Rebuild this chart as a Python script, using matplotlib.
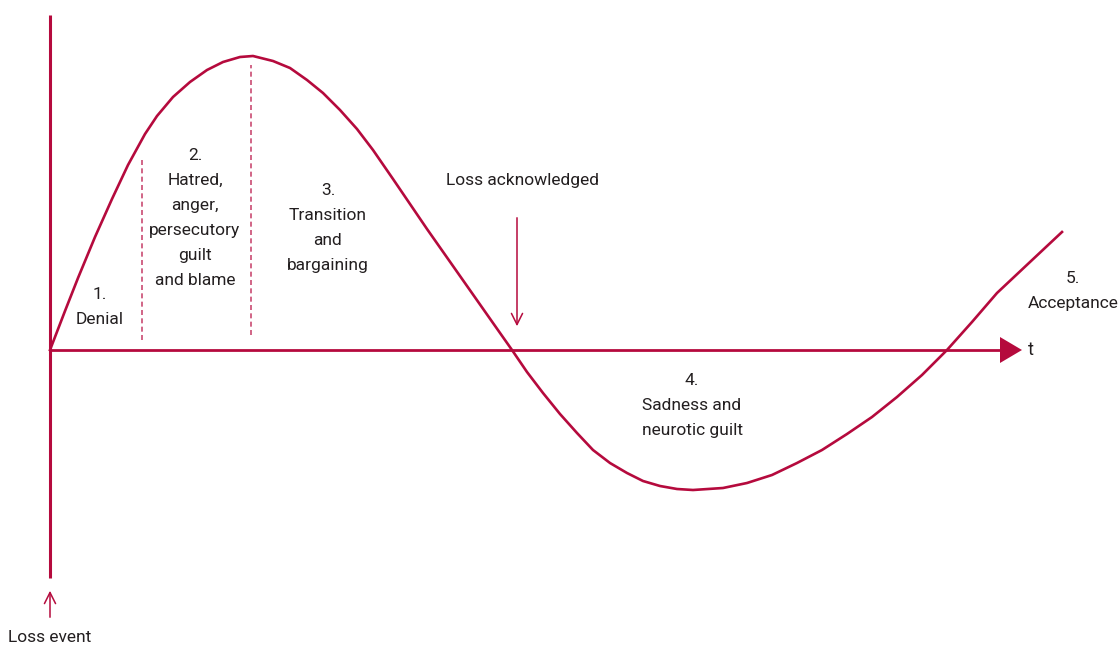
import matplotlib
matplotlib.use("Agg")
import matplotlib.pyplot as plt
from matplotlib.patches import Polygon, FancyArrowPatch

# Emotional response over time (t = time, v = emotional intensity)
curve_t = [0, 15, 28, 45, 62, 78, 95, 107, 123, 140, 157, 173, 190, 203, 223, 240, 257,
           273, 290, 307, 323, 343, 360, 377, 410, 443, 462, 477, 493, 510, 527, 543,
           560, 577, 593, 610, 627, 643, 673, 697, 722, 747, 772, 797, 822, 847,
           872, 897, 922, 947, 980, 1012]
curve_v = [0, 39, 72, 113, 151, 185, 216, 234, 253, 268, 280, 288, 293, 294, 289, 282, 270,
           257, 240, 221, 200, 171, 146, 121, 74, 27, 0, -22, -43, -64, -83, -100,
           -113, -123, -131, -136, -139, -140, -138, -133, -125, -113, -100, -84, -67, -47,
           -25, 0, 28, 57, 88, 118]

stage_dividers_t = [92, 201]
stage_dividers_top = [190, 285]
stage_dividers_bottom = [10, 15]

labels = ["1.\nDenial",
          "2.\nHatred,\nanger,\npersecutory\nguilt\nand blame",
          "3.\nTransition\nand\nbargaining",
          "4.\nSadness and\nneurotic guilt",
          "5.\nAcceptance"]
label_t = [50, 145, 278, 642, 1023]
label_v_top = [63, 202, 167, -23, 79]

acknowledged_t = 467
RED = "#b50a3d"
DASH = "#c94a72"
TXT = "#231f20"
FONT = ["Roboto", "DejaVu Sans"]

fig = plt.figure(figsize=(11.2, 6.48), dpi=100)
ax = fig.add_axes([0, 0, 1, 1])
ax.set_xlim(-50, 1070)
ax.set_ylim(-298, 350)
ax.axis("off")

# axes
ax.plot([0, 0], [-228, 335], color=RED, lw=2.2, solid_capstyle="butt")
ax.plot([0, 952], [0, 0], color=RED, lw=2.0, solid_capstyle="butt")
ax.add_patch(Polygon([[950, 13], [950, -13], [972, 0]], closed=True, color=RED, lw=0))
ax.text(978, 0, "t", ha="left", va="center", fontsize=13, color=TXT, family=FONT)

# curve
ax.plot(curve_t, curve_v, color=RED, lw=1.9, solid_joinstyle="round")

# dividers
for t, top, bot in zip(stage_dividers_t, stage_dividers_top, stage_dividers_bottom):
    ax.plot([t, t], [bot, top], color=DASH, lw=1.2, dashes=(3, 2))

# stage labels
for s, t, v in zip(labels, label_t, label_v_top):
    ax.text(t, v, s, ha="center", va="top", fontsize=12.5, color=TXT,
            family=FONT, linespacing=1.83)

# Loss acknowledged
ax.text(acknowledged_t + 6, 169, "Loss acknowledged", ha="center", va="center",
        fontsize=12.5, color=TXT, family=FONT)
ax.add_patch(FancyArrowPatch((acknowledged_t, 135), (acknowledged_t, 21),
                             arrowstyle="->,head_length=8,head_width=4",
                             color=RED, lw=1.1, mutation_scale=1))

# Loss event
ax.add_patch(FancyArrowPatch((0, -270), (0, -238),
                             arrowstyle="->,head_length=8,head_width=4",
                             color=RED, lw=1.1, mutation_scale=1))
ax.text(0, -288, "Loss event", ha="center", va="center", fontsize=12.5, color=TXT, family=FONT)

fig.savefig("out.png", dpi=100)
